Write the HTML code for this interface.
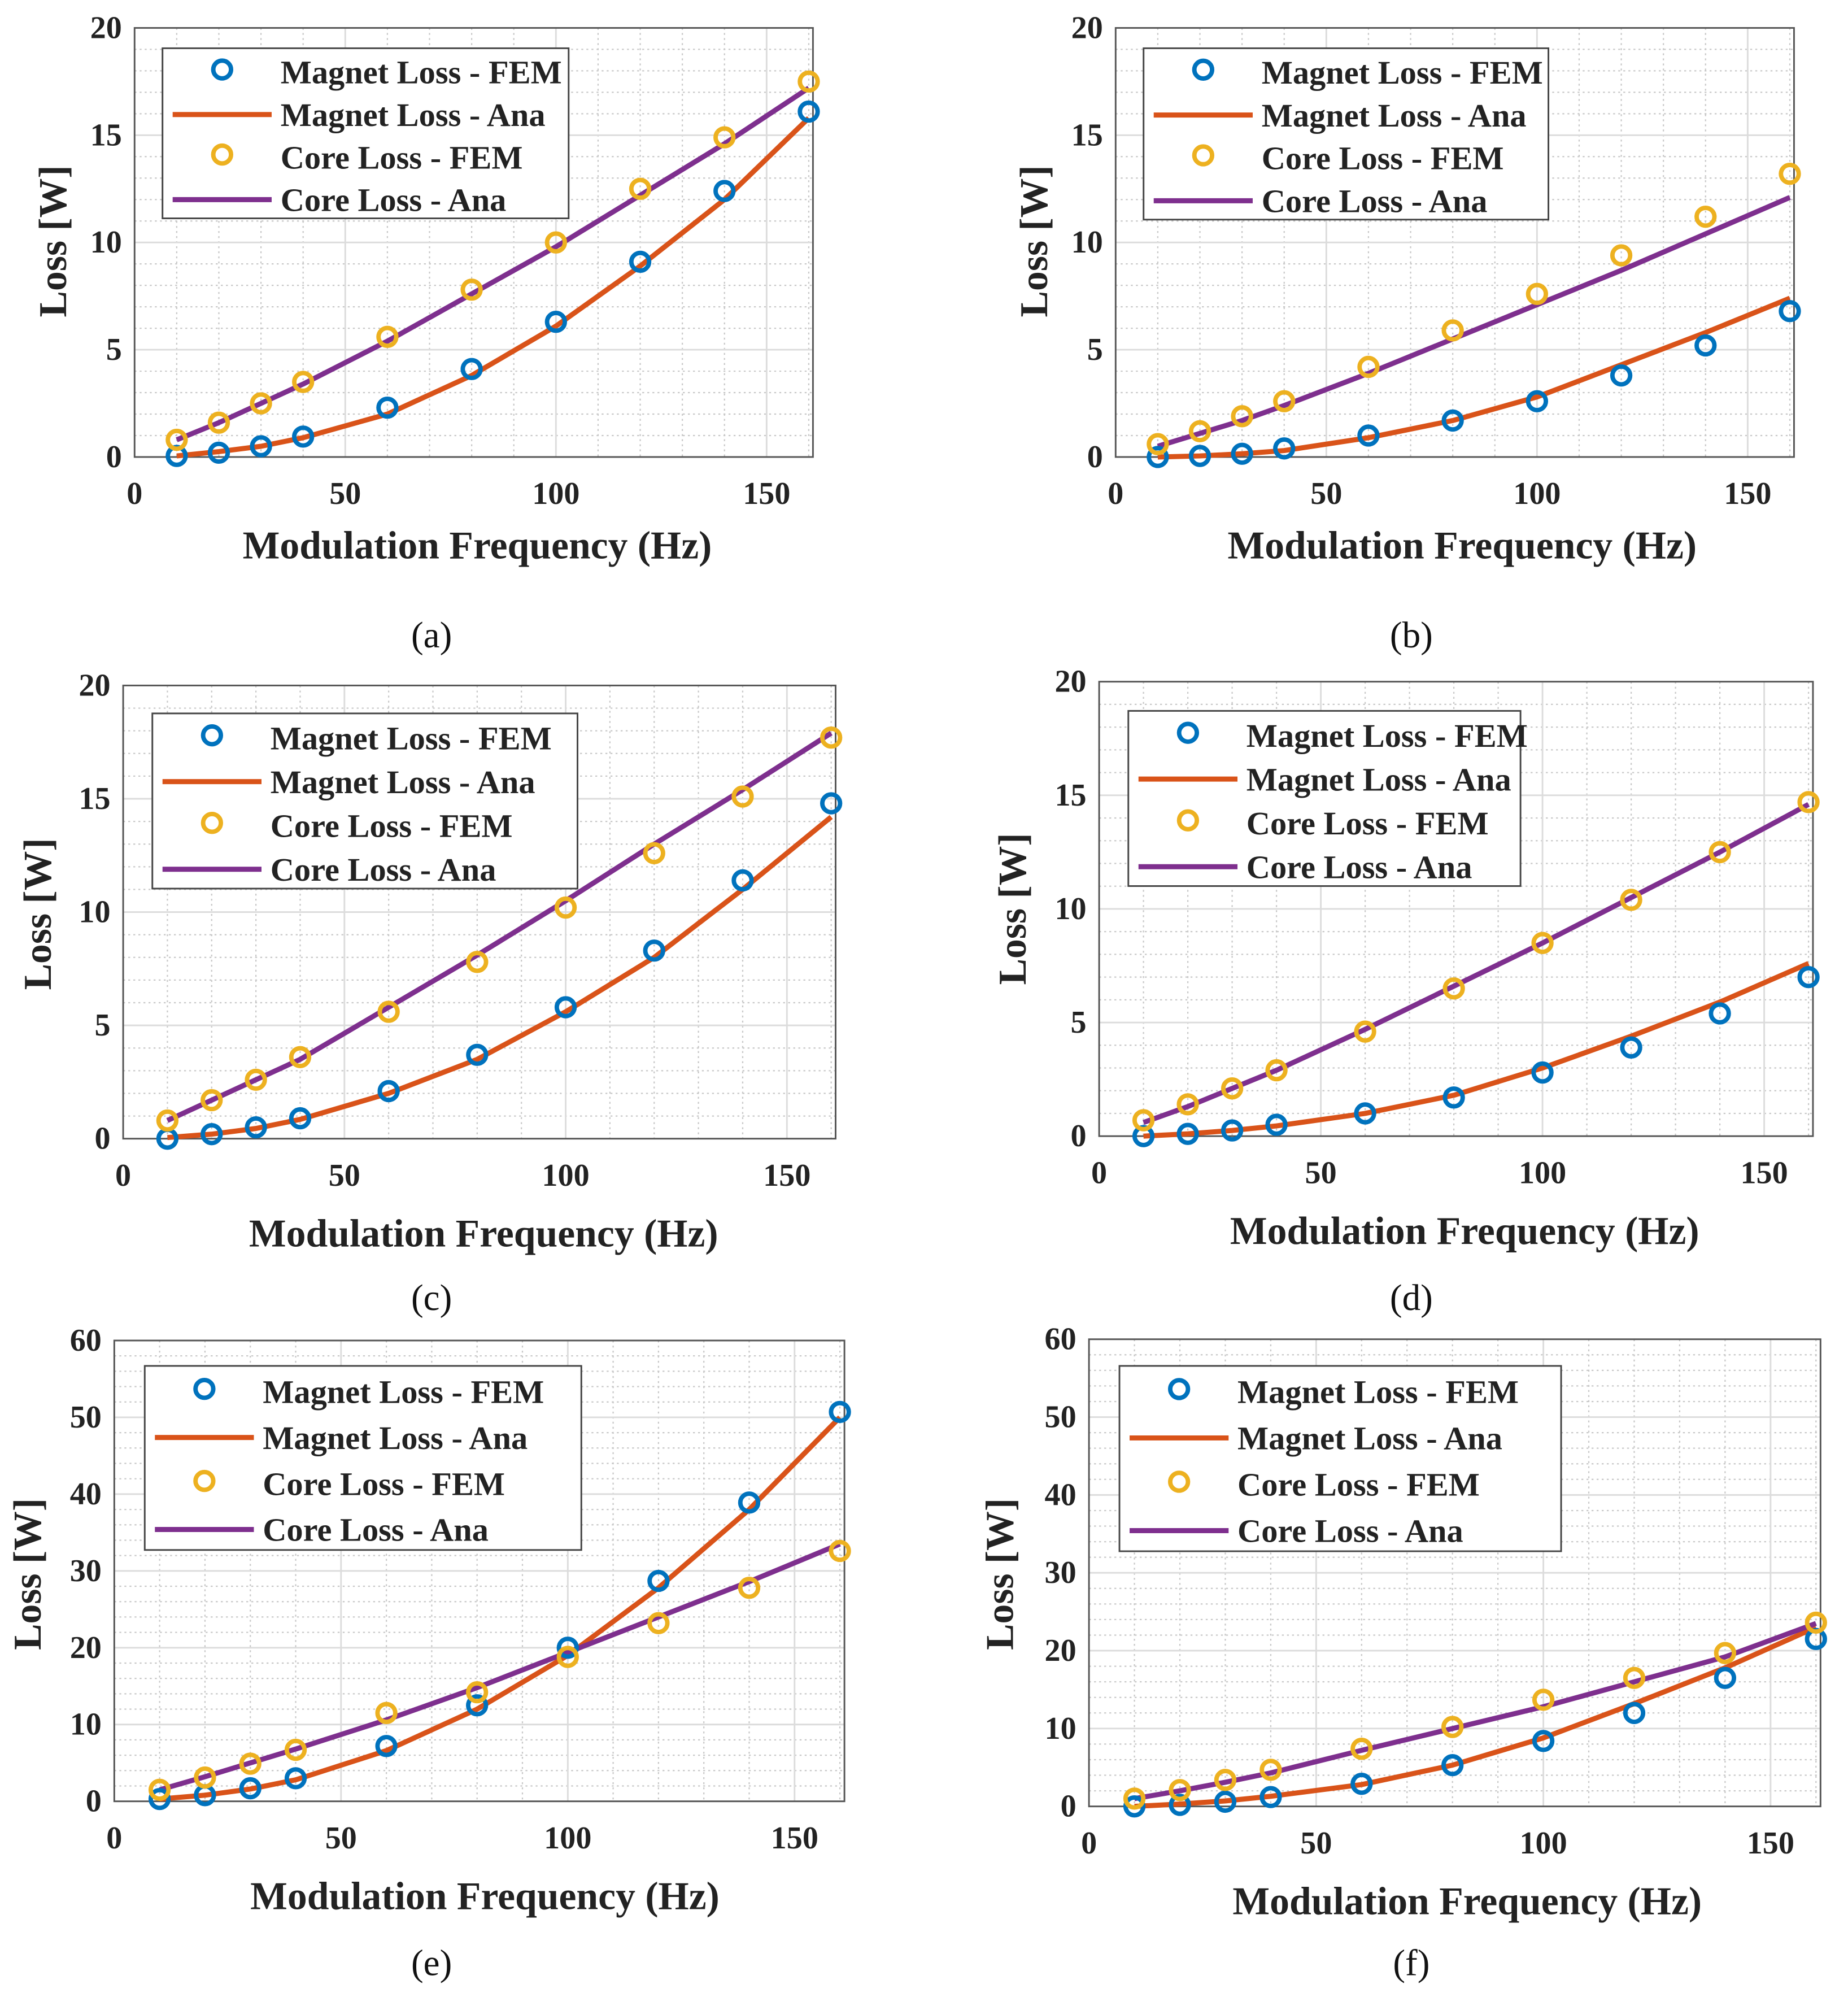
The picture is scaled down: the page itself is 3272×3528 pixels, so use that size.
<!DOCTYPE html>
<html><head><meta charset="utf-8">
<style>
html,body{margin:0;padding:0;background:#fff;}
svg{display:block;}
text{font-family:"Liberation Serif",serif;}
</style></head>
<body>
<svg id="fig" width="3272" height="3528" viewBox="0 0 1456 1570" xmlns="http://www.w3.org/2000/svg"></svg>
<script>
const freqs = [10,20,30,40,60,80,100,120,140,160];
const xTicks = [0,50,100,150];
const yTicksSmall = [0,5,10,15,20];
const yTicksLarge = [0,10,20,30,40,50,60];
const legendLabels = ["Magnet Loss - FEM","Magnet Loss - Ana","Core Loss - FEM","Core Loss - Ana"];
const captions = ["(a)","(b)","(c)","(d)","(e)","(f)"];

const magFemA = [0.05,0.2,0.5,0.95,2.3,4.1,6.3,9.1,12.4,16.1];
const magAnaA = [0.05,0.25,0.5,0.9,2.0,3.8,6.1,8.9,12.0,15.8];
const coreFemA = [0.8,1.6,2.5,3.5,5.6,7.8,10.0,12.5,14.9,17.5];
const coreAnaA = [0.8,1.6,2.5,3.4,5.4,7.6,9.8,12.2,14.6,17.2];

const magFemB = [0,0.05,0.15,0.4,1.0,1.7,2.6,3.8,5.2,6.8];
const magAnaB = [0,0.05,0.15,0.3,0.9,1.7,2.8,4.3,5.8,7.4];
const coreFemB = [0.6,1.2,1.9,2.6,4.2,5.9,7.6,9.4,11.2,13.2];
const coreAnaB = [0.5,1.1,1.7,2.4,3.9,5.5,7.1,8.7,10.4,12.1];

const magFemC = [0,0.2,0.5,0.9,2.1,3.7,5.8,8.3,11.4,14.8];
const magAnaC = [0.05,0.2,0.45,0.85,2.0,3.5,5.6,8.0,11.0,14.2];
const coreFemC = [0.8,1.7,2.6,3.6,5.6,7.8,10.2,12.6,15.1,17.7];
const coreAnaC = [0.8,1.7,2.6,3.5,5.8,8.1,10.5,13.0,15.4,17.9];

const magFemD = [0,0.1,0.25,0.5,1.0,1.7,2.8,3.9,5.4,7.0];
const magAnaD = [0,0.1,0.25,0.45,1.0,1.8,3.0,4.4,5.9,7.6];
const coreFemD = [0.7,1.4,2.1,2.9,4.6,6.5,8.5,10.4,12.5,14.7];
const coreAnaD = [0.6,1.3,2.1,2.9,4.7,6.6,8.5,10.5,12.5,14.6];

const magFemE = [0.3,0.8,1.7,3.0,7.2,12.5,20.0,28.7,38.9,50.7];
const magAnaE = [0.3,0.8,1.6,2.8,6.6,12.0,19.0,27.8,38.0,50.0];
const coreFemE = [1.5,3.1,4.9,6.7,11.5,14.2,18.8,23.2,27.8,32.6];
const coreAnaE = [1.5,3.2,5.0,6.8,10.6,14.8,19.4,24.0,28.6,33.5];

const magFemF = [0,0.2,0.6,1.2,2.9,5.3,8.4,12.0,16.5,21.5];
const magAnaF = [0,0.3,0.7,1.3,2.8,5.3,8.8,13.2,17.8,23.0];
const coreFemF = [1.0,2.1,3.4,4.7,7.4,10.2,13.7,16.5,19.7,23.6];
const coreAnaF = [1.0,2.0,3.1,4.3,7.2,10.0,12.8,16.0,19.2,23.5];

const BLUE="#0072BD", ORANGE="#D95319", YELLOW="#EDB120", PURPLE="#7E2F8E";
const NS="http://www.w3.org/2000/svg";
const svg=document.getElementById('fig');

function mk(tag, attrs, parent){
  const e=document.createElementNS(NS,tag);
  for(const k in attrs) e.setAttribute(k,attrs[k]);
  (parent||svg).appendChild(e);
  return e;
}

const panels=[
 {id:'a',x0:106,x150:604,y0:360,yTop:22,yMax:20,ticks:yTicksSmall,minor:1,leg:[128,38,320,134],ylab:[42,190],xlab:[376,430],cap:[340,500],d:[magFemA,magAnaA,coreFemA,coreAnaA]},
 {id:'b',x0:879,x150:1377,y0:360,yTop:22,yMax:20,ticks:yTicksSmall,minor:1,leg:[901,38,319,135],ylab:[815,190],xlab:[1152,430],cap:[1112,500],d:[magFemB,magAnaB,coreFemB,coreAnaB]},
 {id:'c',x0:97,x150:620,y0:897,yTop:540,yMax:20,ticks:yTicksSmall,minor:1,leg:[120,562,335,138],ylab:[30,720],xlab:[381,972],cap:[340,1022],d:[magFemC,magAnaC,coreFemC,coreAnaC]},
 {id:'d',x0:866,x150:1390,y0:895,yTop:537,yMax:20,ticks:yTicksSmall,minor:1,leg:[889,560,309,138],ylab:[798,716],xlab:[1154,970],cap:[1112,1022],d:[magFemD,magAnaD,coreFemD,coreAnaD]},
 {id:'e',x0:90,x150:626,y0:1419,yTop:1056,yMax:60,ticks:yTicksLarge,minor:2,leg:[114,1076,344,145],ylab:[22,1240],xlab:[382,1494],cap:[340,1546],d:[magFemE,magAnaE,coreFemE,coreAnaE]},
 {id:'f',x0:858,x150:1395,y0:1423,yTop:1055,yMax:60,ticks:yTicksLarge,minor:2,leg:[882,1076,348,146],ylab:[788,1240],xlab:[1156,1498],cap:[1112,1546],d:[magFemF,magAnaF,coreFemF,coreAnaF]}
];

panels.forEach((p,pi)=>{
  const g=mk('g',{});
  
  
  const sx=v=>p.x0+(p.x150-p.x0)*v/150;
  const sy=v=>p.y0-(p.y0-p.yTop)*v/p.yMax;
  const right=sx(161);
  const bg=mk('rect',{x:p.x0,y:p.yTop,width:right-p.x0,height:p.y0-p.yTop,fill:'#fff'},g);
  
  
  for(let v=10;v<=160;v+=10){ if(v%50) mk('line',{x1:sx(v),x2:sx(v),y1:p.yTop,y2:p.y0,stroke:'#c8c8c8','stroke-width':1,'stroke-dasharray':'1.5 2.5'},g);}
  for(let v=p.minor;v<p.yMax;v+=p.minor){ if(!p.ticks.includes(v)) mk('line',{x1:p.x0,x2:right,y1:sy(v),y2:sy(v),stroke:'#c8c8c8','stroke-width':1,'stroke-dasharray':'1.5 2.5'},g);}
  xTicks.forEach(t=>{
    if(t>0) mk('line',{x1:sx(t),x2:sx(t),y1:p.yTop,y2:p.y0,stroke:'#dcdcdc','stroke-width':1.3},g);
    const tx=mk('text',{x:sx(t),y:p.y0+37,'text-anchor':'middle','font-size':25,'font-weight':'bold',fill:'#222'},g);
    tx.textContent=t;
    
    
  });
  p.ticks.forEach(t=>{
    if(t>0&&t<p.yMax) mk('line',{x1:p.x0,x2:right,y1:sy(t),y2:sy(t),stroke:'#dcdcdc','stroke-width':1.3},g);
    const ty=mk('text',{x:p.x0-10,y:sy(t)+8,'text-anchor':'end','font-size':25,'font-weight':'bold',fill:'#222'},g);
    ty.textContent=t;
    
    
  });
  const frame=mk('rect',{x:p.x0,y:p.yTop,width:right-p.x0,height:p.y0-p.yTop,fill:'none',stroke:'#555','stroke-width':1.3},g);
  
  
  const lineSeries=[[p.d[1],ORANGE,'magnet-loss-ana-line'],[p.d[3],PURPLE,'core-loss-ana-line']];
  lineSeries.forEach(s=>{
    const pts=freqs.map((f,i)=>sx(f)+','+sy(s[0][i])).join(' ');
    const pl=mk('polyline',{points:pts,fill:'none',stroke:s[1],'stroke-width':4,'stroke-linejoin':'round'},g);
    
    
  });
  const markSeries=[[p.d[0],BLUE,'magnet-loss-fem-point'],[p.d[2],YELLOW,'core-loss-fem-point']];
  markSeries.forEach(s=>{
    freqs.forEach((f,i)=>{
      const c=mk('circle',{cx:sx(f),cy:sy(s[0][i]),r:7,fill:'none',stroke:s[1],'stroke-width':3.5},g);
      
      
    });
  });
  const [lx,ly,lw,lh]=p.leg;
  const lg=mk('g',{},g);
  
  
  mk('rect',{x:lx,y:ly,width:lw,height:lh,fill:'#fff',stroke:'#444','stroke-width':1.3},lg);
  const rowH=lh/4;
  legendLabels.forEach((lab,i)=>{
    const cy=ly+rowH*(i+0.5)+2;
    const ent=mk('g',{},lg);
    
    
    if(i%2===0){
      mk('circle',{cx:lx+47,cy:cy-2,r:7,fill:'none',stroke:i===0?BLUE:YELLOW,'stroke-width':3.5},ent);
    } else {
      mk('line',{x1:lx+8,x2:lx+86,y1:cy,y2:cy,stroke:i===1?ORANGE:PURPLE,'stroke-width':4},ent);
    }
    const t=mk('text',{x:lx+93,y:cy+9,'font-size':26,'font-weight':'bold',fill:'#222'},ent);
    t.textContent=lab;
  });
  const xl=mk('text',{x:p.xlab[0],y:p.xlab[1]+10,'text-anchor':'middle','font-size':31,'font-weight':'bold',fill:'#222'},g);
  xl.textContent='Modulation Frequency (Hz)';
  
  
  const yl=mk('text',{x:0,y:0,'text-anchor':'middle','font-size':31,'font-weight':'bold',fill:'#222',transform:`translate(${p.ylab[0]+10},${p.ylab[1]}) rotate(-90)`},g);
  yl.textContent='Loss [W]';
  
  
  const cap=mk('text',{x:p.cap[0],y:p.cap[1]+10,'text-anchor':'middle','font-size':29,fill:'#111'},g);
  cap.textContent=captions[pi];
  
  
});
</script>
</body></html>
